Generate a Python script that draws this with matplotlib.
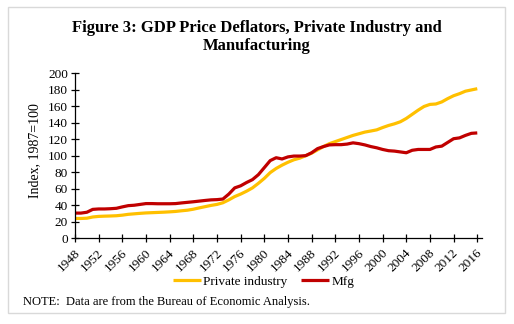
import matplotlib
matplotlib.use("Agg")
import matplotlib.pyplot as plt
from matplotlib.patches import Rectangle
from matplotlib.transforms import ScaledTranslation

years = list(range(1948, 2017))
private_industry = [
    24, 24, 24.3, 25.8, 26.5, 26.8, 27, 27.3, 28, 29,
    29.6, 30.2, 30.7, 31, 31.3, 31.6, 32, 32.5, 33.3, 34,
    35.2, 36.8, 38.3, 39.8, 41, 43, 46.5, 50.5, 53.5, 57,
    61, 66.5, 72.5, 79.5, 84.5, 88.5, 92, 95, 97, 100,
    103, 107, 111, 114.5, 117, 119.5, 122, 124.5, 126.5, 128.5,
    129.8, 131.2, 134, 136.5, 138.5, 141, 145, 150, 155, 159.5,
    162, 162.5, 165, 169, 172.5, 175, 178, 179.5, 181,
]
mfg = [
    30.5, 30.5, 31.5, 35, 35.5, 35.5, 35.8, 36.3, 38, 39.5,
    40, 41, 42, 42, 41.8, 41.8, 41.8, 42, 42.8, 43.5,
    44.2, 45, 45.8, 46.5, 46.8, 47.5, 53.5, 61, 63.5, 67.5,
    71, 77, 85.5, 94, 97.5, 96, 98.5, 99.5, 99.5, 100,
    103.5, 108.5, 111, 113, 113.3, 113.3, 114, 115.5, 114.5, 113,
    111, 109.5, 107.5, 106, 105.5, 104.5, 103.5, 106.5, 107.5, 107.5,
    107.5, 110.5, 111.5, 116, 120.5, 121.5, 124.5, 127, 127.5,
]
x_ticks = list(range(1948, 2017, 4))
y_ticks = list(range(0, 201, 20))

title = "Figure 3: GDP Price Deflators, Private Industry and\nManufacturing"
ylabel = "Index, 1987=100"
note = "NOTE:  Data are from the Bureau of Economic Analysis."

W, H = 514, 324
plt.rcParams['font.family'] = ['Liberation Serif', 'DejaVu Serif']
fig = plt.figure(figsize=(W / 100, H / 100), dpi=100)

# outer border
fig.patches.append(Rectangle((8 / W, 1 - 313 / H), 497 / W, 306 / H,
                             transform=fig.transFigure, fill=False,
                             edgecolor='#D9D9D9', linewidth=1.0))

left, right, top, bottom = 75, 482, 73, 238.3
ax = fig.add_axes([left / W, 1 - bottom / H, (right - left) / W, (bottom - top) / H])

ax.plot(years, private_industry, color='#FFC000', lw=2.3, label='Private industry',
        solid_capstyle='butt', solid_joinstyle='round')
ax.plot(years, mfg, color='#C00000', lw=2.3, label='Mfg',
        solid_capstyle='butt', solid_joinstyle='round')

ax.set_xlim(1948, 2016.8)
ax.set_ylim(0, 200)
ax.set_xticks(x_ticks)
ax.set_yticks(y_ticks)
ax.set_yticklabels([str(v) for v in y_ticks], fontsize=9.5)
ax.set_xticklabels([str(v) for v in x_ticks], fontsize=9.5, rotation=45,
                   ha='right', va='center', rotation_mode='anchor')
for s in ['top', 'right']:
    ax.spines[s].set_visible(False)
for s in ['left', 'bottom']:
    ax.spines[s].set_linewidth(0.9)
ax.tick_params(axis='both', direction='inout', length=6, width=0.9, color='black')
ax.tick_params(axis='y', pad=2)
ax.tick_params(axis='x', pad=6.5)
offset = ScaledTranslation(3 / 100, 0, fig.dpi_scale_trans)
for lab in ax.get_xticklabels():
    lab.set_transform(lab.get_transform() + offset)

ax.set_ylabel(ylabel, fontsize=10)
ax.yaxis.set_label_coords(-0.082, 0.53)

fig.text(257 / W, 1 - 37 / H, title, ha='center', va='center', fontsize=12,
         fontweight='bold', linespacing=1.15)

leg = fig.legend(loc='center', bbox_to_anchor=(263.5 / W, 1 - 281.7 / H), ncol=2,
                 frameon=False, fontsize=9.5, handlelength=2.1, handletextpad=0.15,
                 columnspacing=1.1, borderpad=0)

fig.text(23 / W, 1 - 301.5 / H, note, ha='left', va='center', fontsize=9)

fig.savefig('out.png', dpi=100)
